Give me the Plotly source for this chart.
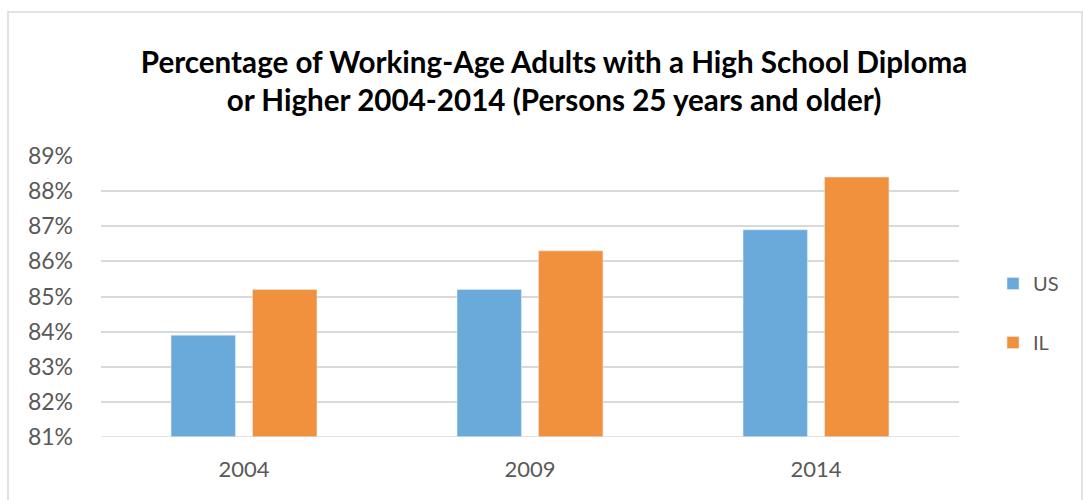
import plotly.graph_objects as go

years = ["2004", "2009", "2014"]
us_pct = [83.9, 85.2, 86.9]
il_pct = [85.2, 86.3, 88.4]
y_ticks = [81, 82, 83, 84, 85, 86, 87, 88, 89]
y_tick_text = [f"{v}%" for v in y_ticks]

W, H = 1083, 500
L, R, T, B = 101, 124, 156, 63
pw, ph = W - L - R, H - T - B


def px_x(x):
    return (x - L) / pw


def px_y(y):
    return (H - B - y) / ph


fig = go.Figure()
fig.add_trace(go.Bar(name="US", x=years, y=us_pct, marker_color="#6aaadb",
                     legendgroup="us"))
fig.add_trace(go.Bar(name="IL", x=years, y=il_pct, marker_color="#f2913d",
                     legendgroup="il"))

fig.update_layout(
    width=W, height=H,
    margin=dict(l=L, r=R, t=T, b=B, autoexpand=False),
    paper_bgcolor="white", plot_bgcolor="white",
    barmode="group", bargap=0.43, bargroupgap=0.21,
    font=dict(family="Lato, 'Open Sans', sans-serif", color="#595959"),
    title=dict(
        text="Percentage of Working-Age Adults with a High School Diploma<br>"
             "or Higher 2004-2014 (Persons 25 years and older)",
        x=px_x(554), xanchor="center", xref="paper",
        y=1 - 73 / H, yanchor="middle",
        font=dict(family="Lato", size=29.6, color="black", weight="bold"),
    ),
    xaxis=dict(showgrid=False, showline=False, ticks="", ticklabelstandoff=17,
               tickfont=dict(size=22, color="#595959")),
    yaxis=dict(range=[81, 89], tickvals=y_ticks, ticktext=y_tick_text,
               showgrid=True, gridcolor="#d9d9d9", gridwidth=1.5,
               zeroline=False, showline=False, ticks="", ticklabelstandoff=27,
               tickfont=dict(size=23, color="#595959")),
    legend=dict(x=px_x(993), y=px_y(313), xanchor="left", yanchor="middle",
                traceorder="grouped", tracegroupgap=30,
                font=dict(size=20, color="#595959"),
                bgcolor="rgba(0,0,0,0)"),
    shapes=[
        # baseline at 81%
        dict(type="line", xref="paper", yref="y", x0=0, x1=1, y0=81, y1=81,
             line=dict(color="#d9d9d9", width=1.5)),
        # outer chart frame
        dict(type="rect", xref="paper", yref="paper",
             x0=px_x(8), x1=px_x(1082), y0=px_y(505), y1=px_y(12),
             line=dict(color="#d9d9d9", width=1.5), layer="below"),
    ],
)

fig.write_html("out.html")
